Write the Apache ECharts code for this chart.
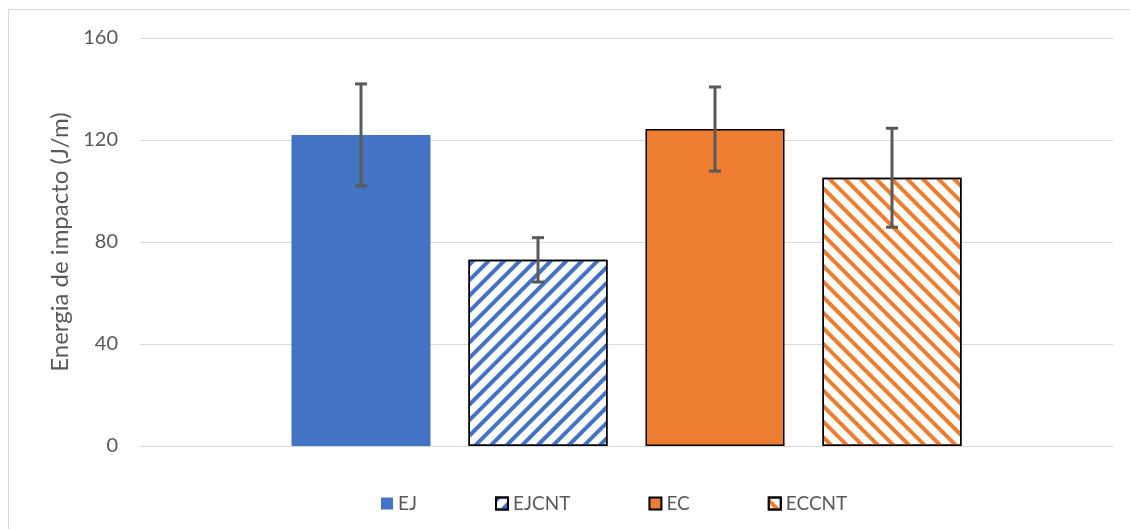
<!DOCTYPE html>
<html><head><meta charset="utf-8">
<script src="https://cdn.jsdelivr.net/npm/echarts@6/dist/echarts.min.js"></script>
<style>html,body{margin:0;padding:0;background:#fff}#c{width:1130px;height:529px}</style>
</head><body><div id="c"></div>
<script>
const seriesNames = ['EJ', 'EJCNT', 'EC', 'ECCNT'];
const means = [122, 73, 124.3, 105.2];
const errors = [20, 8.7, 16.5, 19.4];
const yTicks = [0, 40, 80, 120, 160];
const axisTitle = 'Energia de impacto (J/m)';

const FONT = 'Lato';
const BLUE = '#4472C4', ORANGE = '#ED7D31';
const BW = 0.1429, GAP = 0.273;

const styles = [
  {color: BLUE, borderWidth: 0},
  {color: '#fff', borderColor: '#000', borderWidth: 1.5,
   decal: {symbol: 'rect', symbolSize: 1, dashArrayX: [1, 0], dashArrayY: [4, 7], rotation: -Math.PI/4, color: BLUE}},
  {color: ORANGE, borderColor: '#000', borderWidth: 1.5},
  {color: '#fff', borderColor: '#000', borderWidth: 1.5,
   decal: {symbol: 'rect', symbolSize: 1, dashArrayX: [1, 0], dashArrayY: [4, 7], rotation: Math.PI/4, color: ORANGE}}
];

const series = seriesNames.map((n, i) => ({
  name: n, type: 'bar', data: [means[i]],
  barWidth: (BW*100) + '%', barGap: (GAP*100) + '%',
  itemStyle: styles[i], emphasis: {disabled: true}
}));

series.push({
  type: 'custom',
  data: means.map((m, i) => [0, m - errors[i], m + errors[i], i]),
  encode: {x: 0, y: [1, 2]},
  z: 10,
  renderItem: function (params, api) {
    const idx = api.value(3);
    const catW = api.size([1, 0])[0];
    const bw = catW * BW, gap = bw * GAP;
    const off = (idx - 1.5) * (bw + gap);
    const lo = api.coord([api.value(0), api.value(1)]);
    const hi = api.coord([api.value(0), api.value(2)]);
    const x = lo[0] + off, cap = 6;
    const st = {stroke: '#595959', lineWidth: 3};
    return {type: 'group', children: [
      {type: 'line', shape: {x1: x, y1: lo[1], x2: x, y2: hi[1]}, style: st},
      {type: 'line', shape: {x1: x - cap, y1: hi[1], x2: x + cap, y2: hi[1]}, style: st},
      {type: 'line', shape: {x1: x - cap, y1: lo[1], x2: x + cap, y2: lo[1]}, style: st}
    ]};
  }
});

const chart = echarts.init(document.getElementById('c'), null, {renderer: 'canvas'});
chart.setOption({
  aria: {enabled: false},
  animation: false,
  textStyle: {fontFamily: FONT},
  graphic: [{type: 'rect', shape: {x: 8.5, y: 9.5, width: 1300, height: 700},
    style: {fill: 'none', stroke: '#d9d9d9', lineWidth: 1}, silent: true, z: -10}],
  grid: {left: 140, right: 17, top: 38, bottom: 83, containLabel: false},
  legend: {
    top: 489, left: 376, itemGap: 78, itemWidth: 12, itemHeight: 12,
    data: seriesNames.map((n, i) => ({name: n, icon: 'rect'})),
    textStyle: {color: '#595959', fontSize: 19, fontFamily: FONT}
  },
  xAxis: {
    type: 'category', data: [''],
    axisLine: {lineStyle: {color: '#d9d9d9', width: 1}},
    axisTick: {show: false}, axisLabel: {show: false}
  },
  yAxis: {
    type: 'value', min: yTicks[0], max: yTicks[yTicks.length-1], interval: 40,
    name: axisTitle, nameLocation: 'middle', nameGap: 67,
    nameTextStyle: {color: '#595959', fontSize: 24, fontFamily: FONT},
    axisLine: {show: false}, axisTick: {show: false},
    axisLabel: {color: '#595959', fontSize: 20, margin: 22, fontFamily: FONT},
    splitLine: {lineStyle: {color: '#d9d9d9', width: 1}}
  },
  series: series
});
</script></body></html>
